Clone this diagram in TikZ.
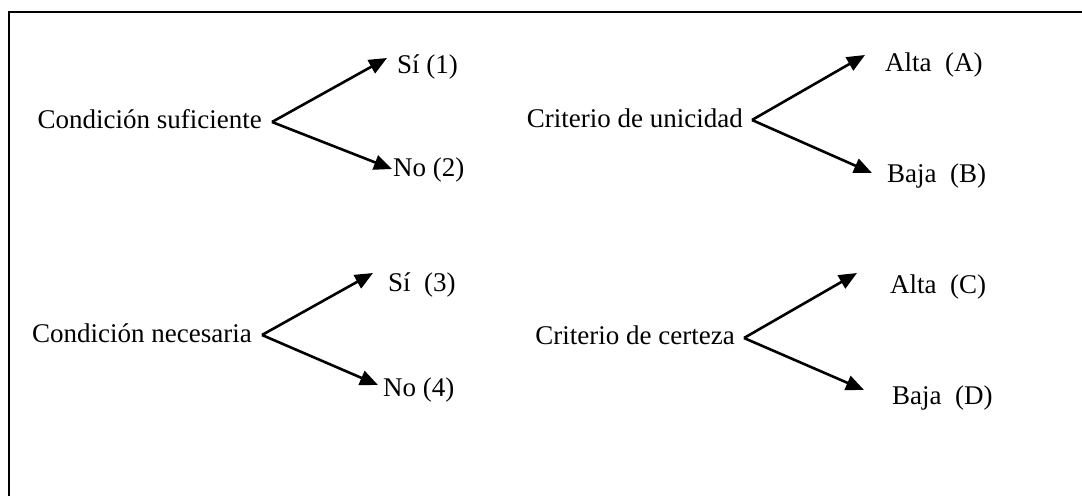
\documentclass[tikz,border=0pt]{standalone}
\usepackage{fontspec}
\setmainfont{Liberation Serif}
\usetikzlibrary{arrows.meta}
\tikzset{
  lbl/.style={inner sep=0pt, font=\fontsize{27}{31}\selectfont},
  mainlbl/.style={lbl, anchor=base east},
  leaf/.style={lbl, anchor=base west},
  branch/.style={line width=2.6pt, -{Triangle[length=18pt,width=15pt]}},
  frame/.style={line width=2.8pt}
}
\begin{document}
\begin{tikzpicture}[x=1pt,y=-1pt]
\useasboundingbox (0,0) rectangle (1082,496);
\draw[frame] (1082,12) -- (9,12) -- (9,496);

% group 1
\node[mainlbl] (cs) at (262,128) {Condición suficiente};
\coordinate (v1) at (272,122);
\coordinate (t1a) at (387,58);
\coordinate (t1b) at (392,169);
\node[leaf] (s1) at (397,73) {Sí (1)};
\node[leaf] (n2) at (393,176) {No (2)};
\draw[branch] (v1) -- (t1a);
\draw[branch] (v1) -- (t1b);

% group 2
\node[mainlbl] (cu) at (743,127) {Criterio de unicidad};
\coordinate (v2) at (752,120);
\coordinate (t2a) at (865,55);
\coordinate (t2b) at (872,173);
\node[leaf] (aa) at (885,71) {Alta\ \ (A)};
\node[leaf] (bb) at (887,182) {Baja\ \ (B)};
\draw[branch] (v2) -- (t2a);
\draw[branch] (v2) -- (t2b);

% group 3
\node[mainlbl] (cn) at (252,342) {Condición necesaria};
\coordinate (v3) at (262,335);
\coordinate (t3a) at (373,273);
\coordinate (t3b) at (378,385);
\node[leaf] (s3) at (388,291) {Sí\ \ (3)};
\node[leaf] (n4) at (383,396) {No (4)};
\draw[branch] (v3) -- (t3a);
\draw[branch] (v3) -- (t3b);

% group 4
\node[mainlbl] (cc) at (735,344) {Criterio de certeza};
\coordinate (v4) at (744,338);
\coordinate (t4a) at (857,273);
\coordinate (t4b) at (864,390);
\node[leaf] (ac) at (890,293) {Alta\ \ (C)};
\node[leaf] (bd) at (892,404) {Baja\ \ (D)};
\draw[branch] (v4) -- (t4a);
\draw[branch] (v4) -- (t4b);
\end{tikzpicture}
\end{document}
